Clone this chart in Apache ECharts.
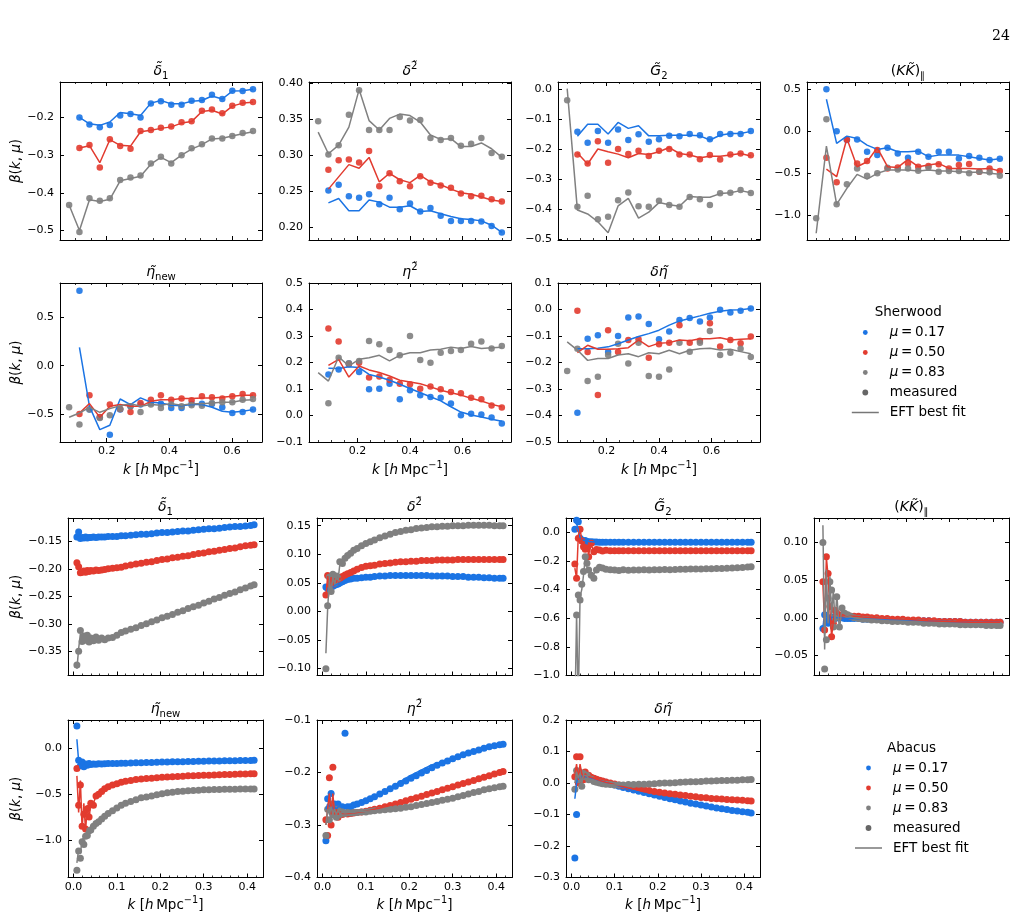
<!DOCTYPE html>
<html>
<head>
<meta charset="utf-8">
<title>beta(k, mu) - Sherwood / Abacus</title>
<script src="https://cdn.jsdelivr.net/npm/echarts@6.0.0/dist/echarts.min.js"></script>
<style>
  html, body { margin: 0; padding: 0; background: #fff; }
  #chart { width: 1022px; height: 921px; }
</style>
</head>
<body>
<div id="chart"></div>
<script>
// ---------------- data : Sherwood ----------------
// first column is drawn on its own k grid (its axis runs 0.05 - 0.70)
var kSherCol1 = [0.080, 0.113, 0.145, 0.178, 0.210, 0.243, 0.276, 0.308, 0.341, 0.373, 0.406, 0.439, 0.471, 0.504, 0.536, 0.569, 0.601, 0.634, 0.667];
var kSher = [0.050, 0.089, 0.128, 0.167, 0.206, 0.244, 0.283, 0.322, 0.361, 0.400, 0.439, 0.478, 0.517, 0.556, 0.594, 0.633, 0.672, 0.711, 0.750];

var shD1Blue = [null, -0.200, -0.219, -0.226, -0.220, -0.195, -0.191, -0.200, -0.163, -0.157, -0.166, -0.166, -0.156, -0.154, -0.140, -0.151, -0.129, -0.130, -0.125];
var shD1BlueFit = [null, -0.200, -0.217, -0.221, -0.212, -0.187, -0.190, -0.195, -0.162, -0.155, -0.164, -0.164, -0.157, -0.155, -0.143, -0.151, -0.130, -0.129, -0.125];
var shD1Red = [null, -0.281, -0.273, -0.333, -0.258, -0.276, -0.283, -0.236, -0.233, -0.227, -0.224, -0.213, -0.210, -0.182, -0.179, -0.189, -0.169, -0.161, -0.159];
var shD1RedFit = [null, -0.281, -0.275, -0.320, -0.259, -0.274, -0.276, -0.238, -0.234, -0.229, -0.225, -0.215, -0.211, -0.184, -0.181, -0.191, -0.170, -0.162, -0.160];
var shD1Gray = [-0.432, -0.504, -0.414, -0.421, -0.414, -0.366, -0.359, -0.354, -0.322, -0.304, -0.322, -0.300, -0.282, -0.271, -0.256, -0.256, -0.249, -0.241, -0.236];
var shD1GrayFit = [-0.432, -0.500, -0.418, -0.423, -0.417, -0.368, -0.362, -0.356, -0.324, -0.306, -0.320, -0.300, -0.284, -0.272, -0.257, -0.255, -0.249, -0.243, -0.238];

var shD2Blue = [null, 0.251, 0.259, 0.243, 0.241, 0.246, 0.232, 0.241, 0.225, 0.233, 0.222, 0.227, 0.216, 0.209, 0.209, 0.209, 0.208, 0.202, 0.193];
var shD2BlueFit = [null, 0.234, 0.240, 0.223, 0.223, 0.238, 0.235, 0.228, 0.228, 0.230, 0.222, 0.223, 0.219, 0.215, 0.212, 0.211, 0.209, 0.203, 0.193];
var shD2Red = [null, 0.280, 0.293, 0.294, 0.290, 0.306, 0.257, 0.275, 0.264, 0.257, 0.271, 0.262, 0.258, 0.255, 0.247, 0.243, 0.244, 0.239, 0.236];
var shD2RedFit = [null, 0.253, 0.270, 0.287, 0.282, 0.297, 0.263, 0.275, 0.266, 0.262, 0.272, 0.263, 0.259, 0.253, 0.248, 0.246, 0.242, 0.238, 0.236];
var shD2Gray = [0.347, 0.301, 0.314, 0.356, 0.390, 0.335, 0.335, 0.335, 0.353, 0.348, 0.349, 0.324, 0.321, 0.324, 0.313, 0.316, 0.324, 0.303, 0.298];
var shD2GrayFit = [0.332, 0.302, 0.314, 0.339, 0.391, 0.348, 0.335, 0.351, 0.357, 0.355, 0.346, 0.328, 0.322, 0.323, 0.312, 0.312, 0.317, 0.309, 0.297];

var shG2Blue = [null, -0.141, -0.178, -0.139, -0.178, -0.134, -0.169, -0.150, -0.175, -0.166, -0.155, -0.156, -0.149, -0.153, -0.166, -0.149, -0.149, -0.149, -0.139];
var shG2BlueFit = [null, -0.156, -0.116, -0.116, -0.149, -0.110, -0.130, -0.121, -0.155, -0.155, -0.153, -0.153, -0.153, -0.155, -0.169, -0.153, -0.147, -0.147, -0.140];
var shG2Red = [null, -0.217, -0.247, -0.173, -0.245, -0.199, -0.216, -0.205, -0.222, -0.205, -0.199, -0.217, -0.217, -0.233, -0.219, -0.234, -0.217, -0.214, -0.220];
var shG2RedFit = [null, -0.212, -0.249, -0.199, -0.208, -0.216, -0.228, -0.214, -0.217, -0.208, -0.194, -0.214, -0.219, -0.228, -0.223, -0.223, -0.219, -0.214, -0.222];
var shG2Gray = [-0.036, -0.392, -0.355, -0.434, -0.425, -0.370, -0.344, -0.390, -0.392, -0.372, -0.386, -0.392, -0.359, -0.367, -0.386, -0.347, -0.345, -0.336, -0.346];
var shG2GrayFit = [0.003, -0.403, -0.416, -0.442, -0.479, -0.389, -0.364, -0.430, -0.410, -0.378, -0.385, -0.390, -0.358, -0.360, -0.360, -0.348, -0.345, -0.338, -0.345];

var shKKBlue = [null, 0.504, 0.005, -0.101, -0.094, -0.240, -0.280, -0.193, -0.260, -0.311, -0.240, -0.299, -0.240, -0.240, -0.319, -0.291, -0.311, -0.339, -0.323];
var shKKBlueFit = [null, 0.385, -0.141, -0.054, -0.082, -0.161, -0.212, -0.193, -0.240, -0.240, -0.232, -0.299, -0.280, -0.280, -0.280, -0.299, -0.319, -0.339, -0.323];
var shKKRed = [null, -0.311, -0.604, -0.094, -0.379, -0.351, -0.220, -0.438, -0.426, -0.379, -0.418, -0.410, -0.390, -0.438, -0.398, -0.386, -0.477, -0.438, -0.470];
var shKKRedFit = [null, -0.446, -0.537, -0.082, -0.418, -0.359, -0.193, -0.418, -0.426, -0.331, -0.418, -0.398, -0.379, -0.438, -0.438, -0.438, -0.446, -0.438, -0.470];
var shKKGray = [-1.031, 0.148, -0.865, -0.628, -0.438, -0.525, -0.497, -0.430, -0.450, -0.438, -0.466, -0.426, -0.477, -0.470, -0.470, -0.497, -0.477, -0.485, -0.525];
var shKKGrayFit = [-1.210, -0.173, -0.865, -0.675, -0.509, -0.565, -0.497, -0.458, -0.458, -0.458, -0.470, -0.458, -0.470, -0.470, -0.477, -0.485, -0.485, -0.497, -0.509];

var shEtaBlue = [null, 0.776, -0.455, -0.534, -0.714, -0.455, -0.421, -0.403, -0.386, -0.393, -0.438, -0.438, -0.393, -0.393, -0.397, -0.431, -0.490, -0.479, -0.455];
var shEtaBlueFit = [null, 0.190, -0.421, -0.662, -0.617, -0.345, -0.403, -0.334, -0.379, -0.386, -0.410, -0.414, -0.403, -0.403, -0.431, -0.472, -0.483, -0.472, -0.455];
var shEtaRed = [null, -0.500, -0.307, -0.531, -0.403, -0.448, -0.479, -0.386, -0.352, -0.307, -0.352, -0.341, -0.359, -0.317, -0.328, -0.341, -0.317, -0.293, -0.307];
var shEtaRedFit = [null, -0.490, -0.393, -0.534, -0.421, -0.403, -0.421, -0.421, -0.369, -0.352, -0.352, -0.341, -0.341, -0.334, -0.334, -0.328, -0.317, -0.307, -0.307];
var shEtaGray = [-0.431, -0.610, -0.455, -0.541, -0.514, -0.448, -0.421, -0.479, -0.403, -0.438, -0.403, -0.421, -0.410, -0.414, -0.386, -0.379, -0.379, -0.352, -0.345];
var shEtaGrayFit = [-0.534, -0.490, -0.431, -0.483, -0.445, -0.414, -0.393, -0.421, -0.403, -0.410, -0.393, -0.410, -0.393, -0.393, -0.386, -0.379, -0.379, -0.359, -0.352];

var shEta2Blue = [null, 0.155, 0.174, 0.196, 0.164, 0.099, 0.101, 0.120, 0.061, 0.095, 0.076, 0.070, 0.067, 0.045, 0.001, 0.007, 0.004, -0.008, -0.030];
var shEta2BlueFit = [null, 0.178, 0.177, 0.184, 0.181, 0.155, 0.145, 0.133, 0.118, 0.102, 0.086, 0.071, 0.055, 0.033, 0.013, 0.002, -0.006, -0.014, -0.022];
var shEta2Red = [null, 0.328, 0.279, 0.193, 0.199, 0.143, 0.147, 0.134, 0.120, 0.118, 0.101, 0.109, 0.099, 0.089, 0.084, 0.067, 0.061, 0.038, 0.030];
var shEta2RedFit = [null, 0.189, 0.212, 0.145, 0.187, 0.172, 0.162, 0.149, 0.133, 0.126, 0.120, 0.108, 0.095, 0.086, 0.077, 0.065, 0.055, 0.042, 0.033];
var shEta2Gray = [null, 0.046, 0.218, 0.197, 0.206, 0.281, 0.269, 0.247, 0.227, 0.300, 0.209, 0.199, 0.237, 0.243, 0.247, 0.271, 0.279, 0.253, 0.262];
var shEta2GrayFit = [0.162, 0.130, 0.221, 0.187, 0.212, 0.218, 0.227, 0.206, 0.227, 0.237, 0.237, 0.247, 0.250, 0.258, 0.253, 0.260, 0.253, 0.256, 0.258];

var shDEBlue = [null, -0.390, -0.110, -0.097, -0.160, -0.100, -0.030, -0.026, -0.055, -0.112, -0.083, -0.040, -0.032, -0.045, -0.030, -0.001, -0.011, -0.005, 0.004];
var shDEBlueFit = [null, -0.148, -0.148, -0.146, -0.141, -0.129, -0.115, -0.102, -0.091, -0.078, -0.059, -0.043, -0.034, -0.024, -0.014, -0.007, -0.002, -0.001, 0.004];
var shDERed = [null, -0.005, -0.160, -0.323, -0.078, -0.160, -0.115, -0.112, -0.182, -0.131, -0.125, -0.059, -0.125, -0.118, -0.052, -0.140, -0.115, -0.127, -0.102];
var shDERedFit = [null, -0.163, -0.135, -0.150, -0.150, -0.148, -0.144, -0.115, -0.140, -0.127, -0.125, -0.115, -0.118, -0.110, -0.110, -0.107, -0.115, -0.112, -0.110];
var shDEGray = [-0.232, -0.148, -0.270, -0.254, -0.172, -0.129, -0.204, -0.125, -0.251, -0.254, -0.226, -0.125, -0.159, -0.125, -0.081, -0.172, -0.163, -0.148, -0.179];
var shDEGrayFit = [-0.122, -0.153, -0.192, -0.185, -0.185, -0.172, -0.167, -0.178, -0.163, -0.167, -0.154, -0.167, -0.154, -0.148, -0.146, -0.153, -0.150, -0.159, -0.167];

// ---------------- data : Abacus ----------------
var kAba = [0.008, 0.012, 0.016, 0.020, 0.024, 0.028, 0.032, 0.036, 0.040, 0.046, 0.052, 0.058, 0.065, 0.072, 0.080, 0.090, 0.100, 0.110, 0.120, 0.132, 0.144, 0.156, 0.168, 0.180, 0.192, 0.204, 0.216, 0.228, 0.240, 0.252, 0.264, 0.276, 0.288, 0.300, 0.312, 0.324, 0.336, 0.348, 0.360, 0.372, 0.384, 0.396, 0.408, 0.416];
var kAbaFit = [0.008, 0.012, 0.016, 0.020, 0.024, 0.028, 0.032, 0.036, 0.040, 0.046, 0.052, 0.060, 0.070, 0.080, 0.100, 0.130, 0.160, 0.200, 0.250, 0.300, 0.350, 0.416];

var abD1Blue = [-0.142, -0.133, -0.145, -0.143, -0.144, -0.142, -0.144, -0.143, -0.143, -0.142, -0.143, -0.142, -0.142, -0.142, -0.141, -0.141, -0.141, -0.140, -0.140, -0.139, -0.138, -0.137, -0.137, -0.136, -0.135, -0.134, -0.134, -0.133, -0.132, -0.131, -0.131, -0.130, -0.129, -0.128, -0.127, -0.127, -0.126, -0.125, -0.124, -0.123, -0.123, -0.122, -0.121, -0.120];
var abD1BlueFit = [-0.143, -0.140, -0.144, -0.143, -0.143, -0.143, -0.143, -0.143, -0.143, -0.142, -0.142, -0.142, -0.142, -0.141, -0.141, -0.139, -0.137, -0.134, -0.131, -0.128, -0.125, -0.120];
var abD1Red = [-0.189, -0.196, -0.207, -0.206, -0.204, -0.206, -0.203, -0.205, -0.203, -0.204, -0.202, -0.203, -0.202, -0.201, -0.200, -0.199, -0.198, -0.197, -0.195, -0.193, -0.191, -0.190, -0.188, -0.187, -0.185, -0.183, -0.182, -0.180, -0.179, -0.177, -0.176, -0.174, -0.172, -0.171, -0.169, -0.168, -0.166, -0.165, -0.163, -0.162, -0.160, -0.158, -0.157, -0.156];
var abD1RedFit = [-0.190, -0.197, -0.207, -0.206, -0.205, -0.205, -0.204, -0.204, -0.204, -0.203, -0.203, -0.202, -0.201, -0.200, -0.198, -0.193, -0.189, -0.183, -0.176, -0.170, -0.164, -0.156];
var abD1Gray = [-0.375, -0.350, -0.312, -0.332, -0.322, -0.330, -0.321, -0.333, -0.326, -0.331, -0.324, -0.330, -0.326, -0.329, -0.326, -0.325, -0.321, -0.316, -0.313, -0.310, -0.307, -0.303, -0.300, -0.296, -0.293, -0.289, -0.286, -0.283, -0.279, -0.276, -0.272, -0.269, -0.266, -0.262, -0.259, -0.255, -0.252, -0.248, -0.245, -0.242, -0.238, -0.235, -0.231, -0.229];
var abD1GrayFit = [-0.382, -0.345, -0.318, -0.335, -0.320, -0.332, -0.322, -0.334, -0.325, -0.330, -0.325, -0.328, -0.326, -0.326, -0.321, -0.311, -0.302, -0.290, -0.276, -0.262, -0.248, -0.229];

var abD2Blue = [0.043, 0.040, 0.038, 0.042, 0.044, 0.046, 0.047, 0.048, 0.050, 0.052, 0.054, 0.056, 0.057, 0.058, 0.058, 0.059, 0.060, 0.060, 0.061, 0.062, 0.062, 0.063, 0.063, 0.063, 0.063, 0.063, 0.063, 0.063, 0.063, 0.062, 0.062, 0.062, 0.062, 0.061, 0.061, 0.061, 0.060, 0.060, 0.060, 0.059, 0.059, 0.058, 0.058, 0.058];
var abD2BlueFit = [0.042, 0.040, 0.039, 0.042, 0.044, 0.046, 0.047, 0.048, 0.050, 0.052, 0.054, 0.056, 0.058, 0.058, 0.060, 0.062, 0.063, 0.063, 0.063, 0.061, 0.060, 0.058];
var abD2Red = [0.029, 0.063, 0.044, 0.060, 0.048, 0.058, 0.052, 0.060, 0.056, 0.061, 0.064, 0.066, 0.068, 0.071, 0.074, 0.077, 0.079, 0.080, 0.081, 0.083, 0.084, 0.085, 0.086, 0.087, 0.087, 0.088, 0.088, 0.089, 0.089, 0.089, 0.090, 0.090, 0.090, 0.090, 0.091, 0.091, 0.091, 0.091, 0.091, 0.091, 0.091, 0.091, 0.091, 0.091];
var abD2RedFit = [0.025, 0.062, 0.040, 0.060, 0.045, 0.058, 0.050, 0.060, 0.056, 0.061, 0.064, 0.067, 0.072, 0.076, 0.080, 0.084, 0.086, 0.088, 0.089, 0.090, 0.091, 0.091];
var abD2Gray = [-0.100, 0.010, 0.060, 0.035, 0.065, 0.050, 0.062, 0.058, 0.087, 0.084, 0.093, 0.098, 0.102, 0.107, 0.110, 0.115, 0.119, 0.122, 0.125, 0.129, 0.132, 0.135, 0.138, 0.140, 0.142, 0.143, 0.145, 0.146, 0.147, 0.148, 0.148, 0.149, 0.149, 0.150, 0.150, 0.150, 0.151, 0.151, 0.151, 0.151, 0.151, 0.150, 0.150, 0.150];
var abD2GrayFit = [-0.073, 0.005, 0.055, 0.030, 0.062, 0.048, 0.060, 0.055, 0.082, 0.082, 0.092, 0.100, 0.106, 0.111, 0.119, 0.130, 0.137, 0.143, 0.147, 0.149, 0.150, 0.150];

var abG2Blue = [0.021, 0.085, 0.074, -0.042, -0.053, -0.060, -0.058, -0.064, -0.065, -0.066, -0.068, -0.068, -0.069, -0.069, -0.070, -0.070, -0.070, -0.070, -0.070, -0.070, -0.070, -0.070, -0.070, -0.070, -0.070, -0.070, -0.070, -0.070, -0.070, -0.070, -0.070, -0.070, -0.070, -0.070, -0.070, -0.070, -0.070, -0.070, -0.070, -0.070, -0.070, -0.070, -0.070, -0.070];
var abG2BlueFit = [0.150, 0.060, 0.020, -0.035, -0.050, -0.058, -0.060, -0.063, -0.065, -0.066, -0.067, -0.068, -0.069, -0.070, -0.070, -0.070, -0.070, -0.070, -0.070, -0.070, -0.070, -0.070];
var abG2Red = [-0.221, -0.321, -0.042, 0.021, -0.060, -0.100, -0.119, -0.110, -0.170, -0.077, -0.135, -0.120, -0.123, -0.130, -0.125, -0.128, -0.128, -0.128, -0.128, -0.128, -0.128, -0.128, -0.128, -0.128, -0.128, -0.128, -0.128, -0.128, -0.128, -0.128, -0.128, -0.128, -0.128, -0.128, -0.128, -0.128, -0.128, -0.128, -0.128, -0.128, -0.128, -0.128, -0.128, -0.128];
var abG2RedFit = [-0.250, -0.320, -0.020, 0.020, -0.050, -0.110, -0.120, -0.110, -0.150, -0.090, -0.130, -0.122, -0.127, -0.126, -0.128, -0.128, -0.128, -0.128, -0.128, -0.128, -0.127, -0.127];
var abG2Gray = [null, -0.577, -0.437, -0.472, -0.363, -0.274, -0.170, -0.216, -0.263, -0.300, -0.321, -0.263, -0.244, -0.250, -0.258, -0.262, -0.263, -0.266, -0.262, -0.265, -0.263, -0.264, -0.262, -0.263, -0.261, -0.262, -0.260, -0.261, -0.259, -0.258, -0.258, -0.257, -0.256, -0.256, -0.255, -0.254, -0.253, -0.252, -0.251, -0.250, -0.248, -0.246, -0.243, -0.240];
var abG2GrayFit = [-1.300, -0.570, -1.200, -0.450, -0.400, -0.300, -0.180, -0.240, -0.270, -0.300, -0.290, -0.260, -0.250, -0.257, -0.262, -0.263, -0.263, -0.262, -0.258, -0.256, -0.251, -0.240];

var abKKBlue = [-0.014, 0.004, -0.005, -0.007, 0.000, -0.002, 0.001, -0.001, 0.000, 0.000, 0.000, -0.001, -0.001, -0.001, -0.001, -0.001, -0.002, -0.002, -0.002, -0.002, -0.003, -0.003, -0.003, -0.003, -0.003, -0.004, -0.004, -0.004, -0.004, -0.004, -0.005, -0.005, -0.005, -0.005, -0.005, -0.005, -0.006, -0.006, -0.006, -0.006, -0.006, -0.006, -0.006, -0.006];
var abKKBlueFit = [-0.012, 0.003, -0.004, -0.006, 0.000, -0.002, 0.001, -0.001, 0.000, 0.000, 0.000, -0.001, -0.001, -0.001, -0.002, -0.002, -0.003, -0.003, -0.004, -0.005, -0.006, -0.006];
var abKKRed = [0.048, -0.016, 0.081, 0.059, 0.015, -0.025, -0.007, 0.010, 0.006, 0.002, 0.004, 0.003, 0.003, 0.002, 0.002, 0.002, 0.001, 0.001, 0.000, 0.000, -0.001, -0.001, -0.002, -0.002, -0.002, -0.003, -0.003, -0.003, -0.004, -0.004, -0.004, -0.005, -0.005, -0.005, -0.005, -0.005, -0.006, -0.006, -0.006, -0.006, -0.006, -0.006, -0.006, -0.006];
var abKKRedFit = [0.045, -0.010, 0.080, 0.055, 0.012, -0.025, -0.005, 0.012, 0.005, 0.002, 0.004, 0.003, 0.002, 0.002, 0.001, 0.000, -0.001, -0.002, -0.004, -0.005, -0.006, -0.006];
var abKKGray = [0.100, -0.068, -0.029, 0.026, 0.048, 0.037, -0.012, 0.000, 0.028, -0.012, 0.013, 0.006, 0.004, 0.002, 0.000, -0.001, -0.002, -0.002, -0.003, -0.003, -0.004, -0.004, -0.005, -0.005, -0.005, -0.006, -0.006, -0.006, -0.007, -0.007, -0.007, -0.008, -0.008, -0.008, -0.008, -0.009, -0.009, -0.009, -0.009, -0.009, -0.010, -0.010, -0.010, -0.010];
var abKKGrayFit = [0.123, -0.042, 0.064, -0.007, 0.055, 0.002, 0.037, -0.007, 0.031, -0.016, 0.015, 0.004, 0.002, 0.000, -0.002, -0.003, -0.004, -0.005, -0.007, -0.008, -0.009, -0.010];

var abEtaBlue = [0.245, -0.130, -0.190, -0.150, -0.200, -0.170, -0.185, -0.165, -0.175, -0.170, -0.172, -0.168, -0.170, -0.167, -0.166, -0.165, -0.164, -0.162, -0.161, -0.160, -0.158, -0.156, -0.155, -0.153, -0.152, -0.150, -0.149, -0.147, -0.146, -0.145, -0.143, -0.142, -0.141, -0.140, -0.139, -0.138, -0.137, -0.136, -0.135, -0.134, -0.133, -0.132, -0.131, -0.130];
var abEtaBlueFit = [0.100, -0.140, -0.220, -0.140, -0.210, -0.160, -0.190, -0.160, -0.180, -0.170, -0.172, -0.170, -0.168, -0.166, -0.164, -0.160, -0.156, -0.150, -0.145, -0.140, -0.136, -0.130];
var abEtaRed = [-0.220, -0.620, -0.400, -0.850, -0.720, -0.880, -0.660, -0.750, -0.600, -0.620, -0.520, -0.500, -0.470, -0.440, -0.420, -0.400, -0.385, -0.370, -0.360, -0.350, -0.340, -0.335, -0.330, -0.325, -0.320, -0.316, -0.312, -0.309, -0.306, -0.303, -0.300, -0.298, -0.296, -0.294, -0.292, -0.290, -0.288, -0.286, -0.284, -0.282, -0.280, -0.279, -0.278, -0.277];
var abEtaRedFit = [-0.300, -0.700, -0.350, -0.880, -0.600, -0.900, -0.620, -0.780, -0.580, -0.600, -0.520, -0.480, -0.440, -0.420, -0.385, -0.350, -0.330, -0.315, -0.300, -0.292, -0.284, -0.277];
var abEtaGray = [-1.330, -1.120, -1.200, -1.020, -1.050, -0.960, -0.950, -0.900, -0.890, -0.850, -0.820, -0.800, -0.770, -0.740, -0.710, -0.680, -0.650, -0.620, -0.600, -0.580, -0.560, -0.540, -0.530, -0.520, -0.505, -0.495, -0.485, -0.478, -0.472, -0.467, -0.463, -0.459, -0.456, -0.453, -0.451, -0.449, -0.448, -0.447, -0.446, -0.445, -0.444, -0.444, -0.443, -0.443];
var abEtaGrayFit = [-1.250, -1.100, -1.150, -1.000, -1.020, -0.950, -0.940, -0.900, -0.880, -0.850, -0.820, -0.790, -0.750, -0.710, -0.650, -0.590, -0.540, -0.500, -0.470, -0.455, -0.448, -0.443];

var abEta2Blue = [-0.330, -0.250, -0.270, -0.240, -0.280, -0.260, -0.270, -0.260, -0.270, -0.265, -0.125, -0.265, -0.265, -0.262, -0.260, -0.257, -0.254, -0.250, -0.246, -0.241, -0.236, -0.231, -0.226, -0.221, -0.216, -0.211, -0.206, -0.201, -0.196, -0.191, -0.186, -0.182, -0.178, -0.174, -0.170, -0.166, -0.163, -0.160, -0.157, -0.154, -0.151, -0.149, -0.147, -0.146];
var abEta2BlueFit = [-0.270, -0.260, -0.265, -0.260, -0.270, -0.265, -0.270, -0.265, -0.268, -0.266, -0.265, -0.264, -0.262, -0.260, -0.254, -0.240, -0.227, -0.207, -0.186, -0.172, -0.158, -0.146];
var abEta2Red = [-0.290, -0.320, -0.210, -0.300, -0.190, -0.280, -0.270, -0.285, -0.275, -0.280, -0.278, -0.279, -0.278, -0.277, -0.276, -0.275, -0.274, -0.272, -0.270, -0.268, -0.265, -0.263, -0.260, -0.257, -0.254, -0.251, -0.248, -0.245, -0.242, -0.239, -0.236, -0.233, -0.230, -0.227, -0.224, -0.221, -0.218, -0.215, -0.212, -0.209, -0.206, -0.203, -0.200, -0.198];
var abEta2RedFit = [-0.300, -0.300, -0.240, -0.280, -0.240, -0.280, -0.270, -0.280, -0.275, -0.278, -0.278, -0.278, -0.277, -0.276, -0.274, -0.268, -0.262, -0.252, -0.238, -0.226, -0.214, -0.198];
var abEta2Gray = [-0.320, -0.270, -0.290, -0.260, -0.280, -0.270, -0.285, -0.270, -0.280, -0.275, -0.278, -0.276, -0.277, -0.276, -0.276, -0.275, -0.275, -0.274, -0.273, -0.272, -0.271, -0.270, -0.269, -0.268, -0.266, -0.265, -0.263, -0.261, -0.259, -0.257, -0.255, -0.253, -0.251, -0.249, -0.246, -0.244, -0.241, -0.238, -0.236, -0.233, -0.231, -0.229, -0.227, -0.226];
var abEta2GrayFit = [-0.300, -0.270, -0.280, -0.265, -0.280, -0.270, -0.280, -0.272, -0.278, -0.276, -0.277, -0.276, -0.276, -0.275, -0.274, -0.272, -0.270, -0.266, -0.259, -0.249, -0.239, -0.226];

var abDEBlue = [-0.238, -0.100, 0.030, 0.010, 0.025, 0.015, 0.022, 0.018, 0.020, 0.016, 0.014, 0.011, 0.008, 0.005, 0.002, -0.002, -0.006, -0.010, -0.014, -0.018, -0.022, -0.026, -0.030, -0.034, -0.038, -0.042, -0.046, -0.050, -0.053, -0.057, -0.060, -0.064, -0.067, -0.070, -0.073, -0.076, -0.079, -0.082, -0.084, -0.087, -0.089, -0.091, -0.093, -0.095];
var abDEBlueFit = [-0.050, 0.000, 0.025, 0.015, 0.022, 0.018, 0.020, 0.019, 0.018, 0.016, 0.014, 0.010, 0.006, 0.002, -0.006, -0.018, -0.030, -0.045, -0.060, -0.073, -0.084, -0.095];
var abDERed = [0.020, 0.083, 0.000, 0.083, 0.030, 0.010, 0.035, 0.020, 0.025, 0.018, 0.015, 0.012, 0.009, 0.006, 0.003, 0.000, -0.003, -0.006, -0.009, -0.012, -0.015, -0.018, -0.021, -0.024, -0.027, -0.029, -0.032, -0.034, -0.036, -0.038, -0.040, -0.042, -0.044, -0.046, -0.047, -0.049, -0.050, -0.051, -0.052, -0.053, -0.054, -0.055, -0.056, -0.057];
var abDERedFit = [0.030, 0.060, 0.010, 0.060, 0.030, 0.015, 0.030, 0.020, 0.022, 0.018, 0.015, 0.011, 0.006, 0.002, -0.005, -0.015, -0.024, -0.034, -0.043, -0.049, -0.053, -0.057];
var abDEGray = [-0.020, 0.040, 0.010, 0.035, -0.010, 0.030, 0.020, 0.025, 0.010, 0.012, 0.005, 0.002, 0.000, -0.002, -0.004, -0.005, -0.006, -0.006, -0.006, -0.005, -0.005, -0.004, -0.004, -0.003, -0.002, -0.001, 0.000, 0.000, 0.001, 0.002, 0.003, 0.004, 0.004, 0.005, 0.006, 0.006, 0.007, 0.008, 0.008, 0.009, 0.009, 0.010, 0.010, 0.011];
var abDEGrayFit = [0.000, 0.035, 0.015, 0.030, 0.000, 0.025, 0.020, 0.022, 0.012, 0.010, 0.005, 0.001, -0.002, -0.004, -0.006, -0.005, -0.004, -0.001, 0.002, 0.005, 0.008, 0.011];

// ---------------- ticks ----------------
var xMajorSher = [0.2, 0.4, 0.6];
var xMinorSher = [0.05, 0.10, 0.15, 0.25, 0.30, 0.35, 0.45, 0.50, 0.55, 0.65, 0.70, 0.75];
var xMajorAba = [0.0, 0.1, 0.2, 0.3, 0.4];
var xMinorAba = [0.02, 0.04, 0.06, 0.08, 0.12, 0.14, 0.16, 0.18, 0.22, 0.24, 0.26, 0.28, 0.32, 0.34, 0.36, 0.38, 0.42];

var yTicksShD1 = [-0.5, -0.4, -0.3, -0.2];
var yTicksShD2 = [0.20, 0.25, 0.30, 0.35, 0.40];
var yTicksShG2 = [-0.5, -0.4, -0.3, -0.2, -0.1, 0.0];
var yTicksShKK = [-1.0, -0.5, 0.0, 0.5];
var yTicksShEta = [-0.5, 0.0, 0.5];
var yTicksShEta2 = [-0.1, 0.0, 0.1, 0.2, 0.3, 0.4, 0.5];
var yTicksShDE = [-0.5, -0.4, -0.3, -0.2, -0.1, 0.0, 0.1];
var yTicksAbD1 = [-0.35, -0.30, -0.25, -0.20, -0.15];
var yTicksAbD2 = [-0.10, -0.05, 0.00, 0.05, 0.10, 0.15];
var yTicksAbG2 = [-1.0, -0.8, -0.6, -0.4, -0.2, 0.0];
var yTicksAbKK = [-0.05, 0.00, 0.05, 0.10];
var yTicksAbEta = [-1.0, -0.5, 0.0];
var yTicksAbEta2 = [-0.4, -0.3, -0.2, -0.1];
var yTicksAbDE = [-0.3, -0.2, -0.1, 0.0, 0.1, 0.2];

var muLabels = ['0.17', '0.50', '0.83'];

// ---------------- layout / style ----------------
var FONT = 'DejaVu Sans';
var COLORS = ['#1b74e4', '#e23b2f', '#808080'];
var xRangeSher1 = [0.0509, 0.6958];
var xRangeSher = [0.015, 0.785];
var xRangeAba = [-0.0125, 0.4365];

var panels = [
  { box: [60, 82, 202, 158], xr: xRangeSher1, xMaj: xMajorSher, xMin: xMinorSher, xLab: false, yr: [-0.525, -0.106], yt: yTicksShD1, yd: 1,
    title: '{m|δ\u0303}{sb|1}', k: kSherCol1, kf: kSherCol1, sym: 6.5, op: 0.9,
    sets: [[shD1Blue, shD1BlueFit], [shD1Red, shD1RedFit], [shD1Gray, shD1GrayFit]] },
  { box: [309, 82, 202, 158], xr: xRangeSher, xMaj: xMajorSher, xMin: xMinorSher, xLab: false, yr: [0.1825, 0.4015], yt: yTicksShD2, yd: 2,
    title: '{m|δ}{sp|2\u0303}', k: kSher, kf: kSher, sym: 6.5, op: 0.9,
    sets: [[shD2Blue, shD2BlueFit], [shD2Red, shD2RedFit], [shD2Gray, shD2GrayFit]] },
  { box: [558, 82, 202, 158], xr: xRangeSher, xMaj: xMajorSher, xMin: xMinorSher, xLab: false, yr: [-0.503, 0.025], yt: yTicksShG2, yd: 1,
    title: '{m|G\u0303}{sb|2}', k: kSher, kf: kSher, sym: 6.5, op: 0.9,
    sets: [[shG2Blue, shG2BlueFit], [shG2Red, shG2RedFit], [shG2Gray, shG2GrayFit]] },
  { box: [807, 82, 202, 158], xr: xRangeSher, xMaj: xMajorSher, xMin: xMinorSher, xLab: false, yr: [-1.29, 0.59], yt: yTicksShKK, yd: 1,
    title: '{u|(}{m|KK\u0303}{u|)}{sb|\u2225}', k: kSher, kf: kSher, sym: 6.5, op: 0.9,
    sets: [[shKKBlue, shKKBlueFit], [shKKRed, shKKRedFit], [shKKGray, shKKGrayFit]] },
  { box: [60, 283, 202, 159], xr: xRangeSher1, xMaj: xMajorSher, xMin: xMinorSher, xLab: true, yr: [-0.79, 0.855], yt: yTicksShEta, yd: 1,
    title: '{m|η\u0303}{sb|new}', k: kSherCol1, kf: kSherCol1, sym: 6.5, op: 0.9,
    sets: [[shEtaBlue, shEtaBlueFit], [shEtaRed, shEtaRedFit], [shEtaGray, shEtaGrayFit]] },
  { box: [309, 283, 202, 159], xr: xRangeSher, xMaj: xMajorSher, xMin: xMinorSher, xLab: true, yr: [-0.1, 0.5], yt: yTicksShEta2, yd: 1,
    title: '{m|η}{sp|2\u0303}', k: kSher, kf: kSher, sym: 6.5, op: 0.9,
    sets: [[shEta2Blue, shEta2BlueFit], [shEta2Red, shEta2RedFit], [shEta2Gray, shEta2GrayFit]] },
  { box: [558, 283, 202, 159], xr: xRangeSher, xMaj: xMajorSher, xMin: xMinorSher, xLab: true, yr: [-0.5, 0.1], yt: yTicksShDE, yd: 1,
    title: '{m|δη\u0303}', k: kSher, kf: kSher, sym: 6.5, op: 0.9,
    sets: [[shDEBlue, shDEBlueFit], [shDERed, shDERedFit], [shDEGray, shDEGrayFit]] },

  { box: [68, 518, 195, 157.5], xr: xRangeAba, xMaj: xMajorAba, xMin: xMinorAba, xLab: false, yr: [-0.394, -0.1075], yt: yTicksAbD1, yd: 2,
    title: '{m|δ\u0303}{sb|1}', k: kAba, kf: kAbaFit, sym: 7, op: 1,
    sets: [[abD1Blue, abD1BlueFit], [abD1Red, abD1RedFit], [abD1Gray, abD1GrayFit]] },
  { box: [317, 518, 195, 157.5], xr: xRangeAba, xMaj: xMajorAba, xMin: xMinorAba, xLab: false, yr: [-0.112, 0.1635], yt: yTicksAbD2, yd: 2,
    title: '{m|δ}{sp|2\u0303}', k: kAba, kf: kAbaFit, sym: 7, op: 1,
    sets: [[abD2Blue, abD2BlueFit], [abD2Red, abD2RedFit], [abD2Gray, abD2GrayFit]] },
  { box: [566, 518, 194, 157.5], xr: xRangeAba, xMaj: xMajorAba, xMin: xMinorAba, xLab: false, yr: [-1.0, 0.1], yt: yTicksAbG2, yd: 1,
    title: '{m|G\u0303}{sb|2}', k: kAba, kf: kAbaFit, sym: 7, op: 1,
    sets: [[abG2Blue, abG2BlueFit], [abG2Red, abG2RedFit], [abG2Gray, abG2GrayFit]] },
  { box: [814, 518, 195, 157.5], xr: xRangeAba, xMaj: xMajorAba, xMin: xMinorAba, xLab: false, yr: [-0.0765, 0.1325], yt: yTicksAbKK, yd: 2,
    title: '{u|(}{m|KK\u0303}{u|)}{sb|\u2225}', k: kAba, kf: kAbaFit, sym: 7, op: 1,
    sets: [[abKKBlue, abKKBlueFit], [abKKRed, abKKRedFit], [abKKGray, abKKGrayFit]] },
  { box: [68, 720, 195, 157.5], xr: xRangeAba, xMaj: xMajorAba, xMin: xMinorAba, xLab: true, yr: [-1.41, 0.31], yt: yTicksAbEta, yd: 1,
    title: '{m|η\u0303}{sb|new}', k: kAba, kf: kAbaFit, sym: 7, op: 1,
    sets: [[abEtaBlue, abEtaBlueFit], [abEtaRed, abEtaRedFit], [abEtaGray, abEtaGrayFit]] },
  { box: [317, 720, 195, 157.5], xr: xRangeAba, xMaj: xMajorAba, xMin: xMinorAba, xLab: true, yr: [-0.4, -0.1], yt: yTicksAbEta2, yd: 1,
    title: '{m|η}{sp|2\u0303}', k: kAba, kf: kAbaFit, sym: 7, op: 1,
    sets: [[abEta2Blue, abEta2BlueFit], [abEta2Red, abEta2RedFit], [abEta2Gray, abEta2GrayFit]] },
  { box: [566, 720, 194, 157.5], xr: xRangeAba, xMaj: xMajorAba, xMin: xMinorAba, xLab: true, yr: [-0.3, 0.2], yt: yTicksAbDE, yd: 1,
    title: '{m|δη\u0303}', k: kAba, kf: kAbaFit, sym: 7, op: 1,
    sets: [[abDEBlue, abDEBlueFit], [abDERed, abDERedFit], [abDEGray, abDEGrayFit]] }
];

function pts(ks, vs) {
  var out = [];
  for (var i = 0; i < vs.length && i < ks.length; i++) {
    if (vs[i] !== null) out.push([ks[i], vs[i]]);
  }
  return out;
}

function inRange(vals, r) {
  return vals.filter(function (v) { return v > r[0] && v < r[1]; });
}

function fmt(d) {
  return function (v) { return v.toFixed(d).replace('-', '\u2212'); };
}

function rich(size) {
  var s = size || 14;
  return {
    m: { fontFamily: FONT, fontStyle: 'italic', fontSize: s, lineHeight: 20, fill: '#000', color: '#000' },
    u: { fontFamily: FONT, fontSize: s, lineHeight: 20, fill: '#000', color: '#000' },
    sb: { fontFamily: FONT, fontSize: s * 0.72, lineHeight: 9, verticalAlign: 'bottom', fill: '#000', color: '#000' },
    sp: { fontFamily: FONT, fontSize: s * 0.72, lineHeight: 13, verticalAlign: 'top', fill: '#000', color: '#000' }
  };
}

function textEl(x, y, text, opts) {
  opts = opts || {};
  return {
    type: 'text', x: x, y: y, rotation: opts.rot || 0, silent: true,
    style: {
      text: text, rich: opts.rich, fill: '#000',
      fontFamily: opts.family || FONT, fontSize: opts.size || 14, fontStyle: opts.italic ? 'italic' : 'normal',
      align: opts.align || 'center', textAlign: opts.align || 'center',
      verticalAlign: opts.valign || 'middle', textVerticalAlign: opts.valign || 'middle'
    }
  };
}

var grids = [], xAxes = [], yAxes = [], series = [], graphics = [];

panels.forEach(function (p, g) {
  grids.push({ left: p.box[0], top: p.box[1], width: p.box[2], height: p.box[3], containLabel: false, outerBoundsMode: 'none' });
  var xi = xAxes.length, yi = yAxes.length;
  var minors = inRange(p.xMin, p.xr);
  ['bottom', 'top'].forEach(function (pos, n) {
    xAxes.push({
      gridIndex: g, type: 'value', position: pos, min: p.xr[0], max: p.xr[1],
      axisLine: { show: true, onZero: false, lineStyle: { color: '#000', width: 1 } },
      axisTick: { show: true, inside: true, length: 4, customValues: p.xMaj, lineStyle: { color: '#000', width: 1 } },
      axisLabel: { show: n === 0 && p.xLab, customValues: p.xMaj, formatter: fmt(1), color: '#000', fontFamily: FONT, fontSize: 11, margin: 4 },
      splitLine: { show: false }
    });
  });
  ['bottom', 'top'].forEach(function (pos) {
    xAxes.push({
      gridIndex: g, type: 'value', position: pos, min: p.xr[0], max: p.xr[1],
      axisLine: { show: false, onZero: false },
      axisTick: { show: true, inside: true, length: 2, customValues: minors, lineStyle: { color: '#000', width: 0.8 } },
      axisLabel: { show: false }, splitLine: { show: false }
    });
  });
  ['left', 'right'].forEach(function (pos, n) {
    yAxes.push({
      gridIndex: g, type: 'value', position: pos, min: p.yr[0], max: p.yr[1],
      axisLine: { show: true, onZero: false, lineStyle: { color: '#000', width: 1 } },
      axisTick: { show: true, inside: true, length: 4, customValues: p.yt, lineStyle: { color: '#000', width: 1 } },
      axisLabel: { show: n === 0, customValues: p.yt, formatter: fmt(p.yd), color: '#000', fontFamily: FONT, fontSize: 11, margin: 6 },
      splitLine: { show: false }
    });
  });
  p.sets.forEach(function (pair, j) {
    series.push({
      type: 'scatter', xAxisIndex: xi, yAxisIndex: yi, data: pts(p.k, pair[0]),
      symbol: 'circle', symbolSize: p.sym, silent: true,
      itemStyle: { color: COLORS[j], opacity: p.op }
    });
    series.push({
      type: 'line', xAxisIndex: xi, yAxisIndex: yi, data: pts(p.kf, pair[1]),
      symbol: 'none', showSymbol: false, silent: true, clip: true,
      lineStyle: { color: COLORS[j], width: 1.5 }
    });
  });
  // panel title
  graphics.push(textEl(p.box[0] + p.box[2] / 2, p.box[1] - 1, p.title, { rich: rich(14), valign: 'bottom' }));
  // x axis name on bottom row panels
  if (p.xLab) {
    graphics.push(textEl(p.box[0] + p.box[2] / 2, p.box[1] + p.box[3] + 28,
      '{m|k}{u| [}{m|h}{u|\u2009Mpc}{sp|\u22121}{u|]}', { rich: rich(13.5) }));
  }
});

// y axis names
[161, 362.5, 596.75, 798.75].forEach(function (cy) {
  graphics.push(textEl(16, cy, '{m|β}{u|(}{m|k}{u|, }{m|μ}{u|)}', { rich: rich(13.5), rot: Math.PI / 2 }));
});

// legends
function legend(title, x0, y0) {
  graphics.push(textEl(x0 + 43, y0, title, { size: 13.5 }));
  for (var j = 0; j < 3; j++) {
    graphics.push({ type: 'circle', silent: true, shape: { cx: x0, cy: y0 + 20 * (j + 1), r: 2.4 }, style: { fill: COLORS[j] } });
    graphics.push(textEl(x0 + 24.5, y0 + 20 * (j + 1), '{m|μ}{u|\u2009=\u20090' + muLabels[j].slice(1) + '}', { rich: rich(13.5), align: 'left' }));
  }
  graphics.push({ type: 'circle', silent: true, shape: { cx: x0, cy: y0 + 80, r: 2.9 }, style: { fill: '#666' } });
  graphics.push(textEl(x0 + 24.5, y0 + 80, 'measured', { size: 13.5, align: 'left' }));
  graphics.push({ type: 'line', silent: true, shape: { x1: x0 - 13.5, y1: y0 + 100, x2: x0 + 13.5, y2: y0 + 100 }, style: { stroke: '#777', lineWidth: 1.5 } });
  graphics.push(textEl(x0 + 24.5, y0 + 100, 'EFT best fit', { size: 13.5, align: 'left' }));
}
legend('Sherwood', 865.3, 312.5);
legend('Abacus', 868.5, 748);

// page number
graphics.push(textEl(1001, 36, '24', { family: 'DejaVu Serif', size: 14 }));

var chart = echarts.init(document.getElementById('chart'), null, { renderer: 'canvas' });
chart.setOption({
  animation: false,
  backgroundColor: '#fff',
  grid: grids,
  xAxis: xAxes,
  yAxis: yAxes,
  series: series,
  graphic: { elements: graphics }
});
</script>
</body>
</html>
